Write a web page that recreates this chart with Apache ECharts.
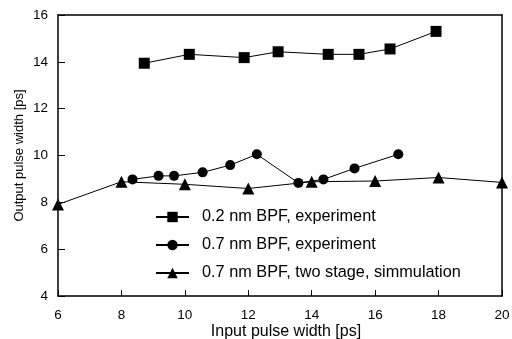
<!DOCTYPE html>
<html><head><meta charset="utf-8">
<script src="https://cdn.jsdelivr.net/npm/echarts@6/dist/echarts.min.js"></script>
<style>html,body{margin:0;padding:0;background:#fff}#c{width:512px;height:339px}</style>
</head><body><div id="c"></div>
<script>
const xTicks = [6, 8, 10, 12, 14, 16, 18, 20];
const yTicks = [4, 6, 8, 10, 12, 14, 16];
const seriesNames = ['0.2 nm BPF, experiment', '0.7 nm BPF, experiment', '0.7 nm BPF, two stage, simmulation'];
const sqX = [8.72, 10.14, 11.87, 12.94, 14.52, 15.49, 16.47, 17.92];
const sqY = [13.94, 14.32, 14.18, 14.43, 14.32, 14.32, 14.55, 15.30];
const ciX = [8.35, 9.17, 9.66, 10.56, 11.43, 12.27, 13.58, 14.37, 15.35, 16.73];
const ciY = [8.98, 9.13, 9.13, 9.28, 9.59, 10.05, 8.83, 8.98, 9.45, 10.05];
const trX = [6, 8, 10, 12, 14, 16, 18, 20];
const trY = [7.91, 8.88, 8.77, 8.59, 8.88, 8.91, 9.06, 8.85];

const pairs = (xs, ys) => xs.map((x, i) => [x, ys[i]]);
const font = 'Liberation Sans, Arial, sans-serif';
const chart = echarts.init(document.getElementById('c'), null, {renderer: 'canvas'});
const axisLine = {show: true, onZero: false, lineStyle: {color: '#000', width: 1.5}};
const mk = (name, data, symbol, size) => ({
  name, type: 'line', data, symbol, symbolSize: size, showSymbol: true,
  lineStyle: {color: '#000', width: 1}, itemStyle: {color: '#000'},
  animation: false, z: 3
});
chart.setOption({
  animation: false,
  backgroundColor: '#fff',
  grid: {left: 58, right: 10, top: 15, bottom: 43, containLabel: false, outerBoundsMode: 'none'},
  legend: {
    orient: 'vertical', left: 155, top: 209, padding: 0,
    itemWidth: 33, itemHeight: 13, itemGap: 12,
    data: seriesNames,
    textStyle: {fontFamily: font, fontSize: 16.3, color: '#000', padding: [0, 0, 0, 8], lineHeight: 13}
  },
  xAxis: [{
    type: 'value', min: xTicks[0], max: xTicks[xTicks.length - 1], interval: 2,
    axisLine, axisTick: {show: true, inside: true, length: 6, lineStyle: {color: '#000'}},
    splitLine: {show: false},
    axisLabel: {fontFamily: font, fontSize: 13.5, color: '#000', margin: 12},
    name: 'Input pulse width [ps]', nameLocation: 'middle', nameGap: 28, nameMoveOverlap: false,
    nameTextStyle: {fontFamily: font, fontSize: 16, color: '#000', lineHeight: 16, padding: [0, 0, 0, 12]}
  }, {
    type: 'value', position: 'top', min: 6, max: 20,
    axisLine, axisTick: {show: false}, axisLabel: {show: false}, splitLine: {show: false}
  }],
  yAxis: [{
    type: 'value', min: yTicks[0], max: yTicks[yTicks.length - 1], interval: 2,
    axisLine, axisTick: {show: true, inside: true, length: 7, lineStyle: {color: '#000'}},
    splitLine: {show: false},
    axisLabel: {fontFamily: font, fontSize: 13.5, color: '#000', margin: 10},
    name: 'Output pulse width [ps]', nameLocation: 'middle', nameGap: 32, nameMoveOverlap: false,
    nameTextStyle: {fontFamily: font, fontSize: 13, color: '#000'}
  }, {
    type: 'value', position: 'right', min: 4, max: 16,
    axisLine, axisTick: {show: false}, axisLabel: {show: false}, splitLine: {show: false}
  }],
  series: [
    mk(seriesNames[0], pairs(sqX, sqY), 'rect', 11),
    mk(seriesNames[1], pairs(ciX, ciY), 'circle', 10),
    mk(seriesNames[2], pairs(trX, trY), 'triangle', 12)
  ]
});
</script></body></html>
